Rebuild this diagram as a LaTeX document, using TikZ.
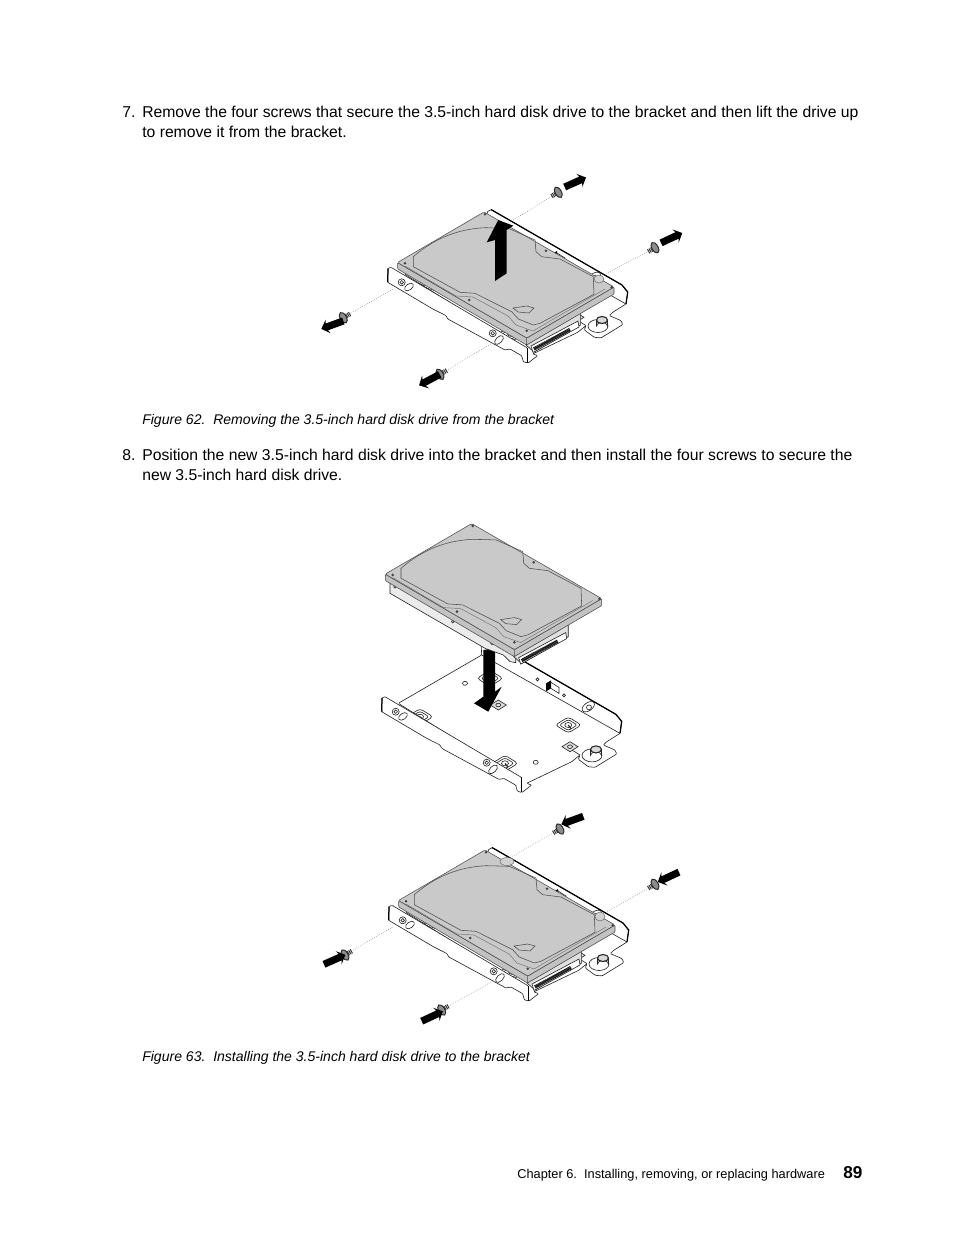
\documentclass[tikz,border=0pt]{standalone}
\usepackage{fontspec}
\setmainfont{Liberation Sans}
\usetikzlibrary{shapes.geometric,shapes.arrows}

% rounded mounting pad on the bracket floor
\newcommand{\caddypad}[2]{
    \filldraw[part, rounded corners=2pt] (#1-13,#2) -- (#1,#2-8) -- (#1+13,#2) -- (#1,#2+8) -- cycle;
    \draw[part, rounded corners=1.5pt] (#1-9,#2) -- (#1,#2-5.5) -- (#1+9,#2) -- (#1,#2+5.5) -- cycle;
    \draw[part] (#1,#2) ellipse[x radius=3.5, y radius=2.5];
    \draw[part, line width=.7pt] (#1,#2) -- (#1+3,#2+4);
}
% small square clip on the bracket floor
\newcommand{\caddyclip}[2]{
    \filldraw[part, fill=gray!25] (#1-8,#2) -- (#1,#2-5) -- (#1+8,#2) -- (#1,#2+5) -- cycle;
    \draw[part] (#1,#2) ellipse[x radius=2.5, y radius=1.8];
}
% screw with threads pointing along the given angle
\newcommand{\screw}[3]{
    \draw[threads] (#2) -- ++(#3:8);
    \node[screwhead, rotate=-#3] (#1) at (#2) {};
}

\begin{document}
\begin{tikzpicture}[
            x=0.6415pt, y=-0.6415pt,
            part/.style={draw=black!85, line width=.4pt, fill=none},
            bodytext/.style={anchor=base west, inner sep=0pt, font=\fontsize{10.08}{12}\selectfont},
            figcaption/.style={anchor=base west, inner sep=0pt, font=\fontsize{9}{10}\selectfont\itshape},
            footertext/.style={anchor=base west, inner sep=0pt, font=\fontsize{8.2}{10}\selectfont},
            pagenumber/.style={anchor=base west, inner sep=0pt, font=\fontsize{11}{12}\selectfont\bfseries},
            guide/.style={draw=black!70, line width=.3pt, densely dotted},
            threads/.style={draw=black!80, line width=3pt, dash pattern=on .6pt off .5pt},
            screwhead/.style={ellipse, draw=black!85, fill=black!45, line width=.6pt, inner sep=0pt, minimum width=4pt, minimum height=7.5pt},
            boltarrow/.style={single arrow, fill=black, inner sep=0pt, minimum height=15pt,
                single arrow head extend=2.4pt, single arrow head indent=1pt},
            % bracket with floor and rear flange
            caddy/.pic={
                \filldraw[part, fill=white, rounded corners=.6pt] (404.3,273.9) -- (487.7,225.6) -- (487,212) -- (491,209.5)
                    -- (622,285) -- (627.7,292) -- (626,304) -- (612.7,312.3) -- (609.3,315.6) -- (621,320.6) -- (622.7,324.6)
                    -- (601,337.9) -- (594.3,337.3) -- (584.3,329.9) -- (586,325.6) -- (577.7,332.3) -- (532.7,353.9)
                    -- (537.7,355.6) -- (527.7,363.3) -- (526.7,350.6) -- cycle;
                \draw[black, line width=.8pt] (491,209.5) -- (622,285) -- (627.7,292) -- (626,304);
                \draw[part] (487.7,225.6) -- (626,304);
                \draw[part] (577,320) -- (586,325.6);
                \caddypad{426}{287.3}
                \caddypad{496}{248.9}
                \caddypad{574.3}{295.6}
                \caddypad{511}{333.9}
                \caddyclip{504.3}{275.6}
                \caddyclip{576}{317.3}
                \draw[part] (471,253.9) ellipse[x radius=2.5, y radius=2];
                \draw[part] (541.7,332.9) ellipse[x radius=2.5, y radius=2];
                % rear flange details
                \draw[part, rotate around={35:(594.3,277.3)}] (594.3,277.3) ellipse[x radius=7, y radius=4];
                \draw[part] (595,278) circle[radius=2.5];
                \fill[black] (552,254) -- (557,251) -- (557,259) -- (552,262) -- cycle;
                \draw[part] (557,253) -- (565,258) -- (565,264) -- (557,259);
                \draw[part] (543.5,250) circle[radius=1.5];
                \draw[part] (570,266) circle[radius=1.5];
                % post on the tab
                \draw[part] (598,326) ellipse[x radius=10, y radius=6.5];
                \filldraw[part, fill=white] (596.5,320) -- (596.5,326) arc[start angle=180, end angle=360, x radius=5.5, y radius=3.5] -- (607.5,320);
                \filldraw[part, fill=black!15, line width=.7pt] (602,320) ellipse[x radius=5.5, y radius=3.5];
            },
            % front flange of the bracket
            caddyflange/.pic={
                \filldraw[part, fill=white, rounded corners=.5pt] (388,268.5) -- (391,267.3) -- (527.5,348) -- (527.5,363) -- (523.3,361.7)
                    -- (521.7,355.7) -- (510,349) -- (505,350) -- (447.7,318.9) -- (446,315.6) -- (432.7,308.9) -- (387.7,282.3) -- cycle;
                \draw[black, line width=.9pt] (527.5,348) -- (527.5,363);
                \draw[black, line width=.8pt] (388,268.5) -- (387.7,282.3);
                \draw[part] (401.7,282.3) circle[radius=3.5];
                \draw[part] (401.7,282.3) circle[radius=1.8];
                \draw[part, rotate around={35:(409,287)}] (409,287) ellipse[x radius=5, y radius=3];
                \draw[part] (492.7,333.3) circle[radius=3.5];
                \draw[part] (492.7,333.3) circle[radius=1.8];
                \draw[part, rotate around={45:(499,340)}] (499,340) ellipse[x radius=5.5, y radius=3];
            },
            % hard disk drive, top cover and connector side
            hdd/.pic={
                \filldraw[part, fill=black!12] (526,345) -- (534,352) -- (580.6,325) -- (580.6,313) -- cycle;
                \filldraw[draw=black!70, line width=.35pt, fill=black!24, rounded corners=.6pt] (397.5,262.5) -- (397.7,269) -- (526.5,345) -- (614,294) -- (614,287) -- (526.7,338) -- cycle;
                \filldraw[draw=black!70, line width=.35pt, fill=black!21, rounded corners=.8pt] (484,212) -- (397.5,262.5) -- (526.7,338) -- (614,287) -- cycle;
                \draw[draw=black!70, line width=.35pt] (526.7,338) -- (526.5,345);
                % raised outline of the cover
                \draw[draw=black!70, line width=.35pt] (413.3,266.7) -- (413.3,256.7) .. controls (435,238) and (458,229) .. (485,227.7)
                    -- (508.3,228.3) -- (535,240) -- (536,251.7) -- (541.7,256.7) -- (560,259) -- (593.3,276.7) -- (594,294.3)
                    -- (540,323.3) -- (533.3,325) -- (518.3,319) -- (511.7,311.7) -- (475,293.3) -- (460,292.3) -- cycle;
                \draw[draw=black!55, line width=.3pt] (405,266) -- (456,296) -- (473,297) -- (508,316) -- (516,325) -- (533,331) -- (605,289);
                \draw[draw=black!70, line width=.35pt] (513,308) -- (526.7,306) -- (534,308) -- (529,313) -- (518,312) -- cycle;
                % screw dots of the cover
                \foreach \dotx/\doty in {405/263.3, 485/214.3, 611.7/287.3, 526.7/330.7, 469.3/300, 546/250.7}
                    \fill[black!75] (\dotx,\doty) circle[radius=1.4];
                % connector
                \filldraw[part, fill=white] (531,346) -- (578,321) -- (579,327) -- (533,352.5) -- cycle;
                \draw[black, line width=2.2pt, dash pattern=on .45pt off .3pt] (534,349) -- (570,329.5);
            },
            % lower part of the drive that shows when it is lifted
            hddbody/.pic={
                \filldraw[part, fill=black!8] (402.3,268) -- (402.3,281.7) -- (497.3,336.7) -- (515.6,343.4) -- (522.3,350) -- (528,351) -- (528,343) -- cycle;
                \foreach \dotx/\doty in {407.3/275.3, 465/310, 504.3/331.7}
                    \draw[part] (\dotx,\doty) circle[radius=1.3];
            }
        ]
        \useasboundingbox (0,0) rectangle (954,1235);
        \fill[white] (0,0) rectangle (954,1235);

        % Step 7
        \node[bodytext] (num7) at (122,117.5) {7.};
        \node[bodytext] (step7a) at (142,117.5) {Remove the four screws that secure the 3.5-inch hard disk drive to the bracket and then lift the drive up};
        \node[bodytext] (step7b) at (142,137.5) {to remove it from the bracket.};

        % Figure 62
        \pic at (0,0) {caddy};
        \pic at (0,0) {hdd};
        \pic at (0,0) {caddyflange};
        \filldraw[draw=black!60, line width=.3pt, fill=black!18] (599,279) ellipse[x radius=5, y radius=4];
        \coordinate (hole62a) at (513.3,220);
        \coordinate (hole62b) at (606.7,273.3);
        \coordinate (hole62c) at (393.3,289);
        \coordinate (hole62d) at (491.7,343.3);
        \screw{screw62a}{558.3,192.3}{150}
        \screw{screw62b}{655,247.7}{150}
        \screw{screw62c}{343.3,317.7}{-30}
        \screw{screw62d}{440,374.3}{-30}
        \draw[guide] (screw62a) -- (hole62a);
        \draw[guide] (screw62b) -- (hole62b);
        \draw[guide] (screw62c) -- (hole62c);
        \draw[guide] (screw62d) -- (hole62d);
        \node[boltarrow, rotate=24] (arrow62a) at (573.7,183) {\rule{0pt}{4.2pt}};
        \node[boltarrow, rotate=25] (arrow62b) at (670,238.7) {\rule{0pt}{4.2pt}};
        \node[boltarrow, rotate=200] (arrow62c) at (334,324.3) {\rule{0pt}{4.2pt}};
        \node[boltarrow, rotate=208] (arrow62d) at (431,379) {\rule{0pt}{4.2pt}};
        % lift arrow
        \fill[black] (498.3,220) -- (513.3,225.7) -- (506.7,230) -- (506.7,273.3) -- (495,281) -- (495,240) -- (486.7,242.3) -- cycle;

        \node[figcaption] (cap62) at (142,424) {Figure 62.\ \ Removing the 3.5-inch hard disk drive from the bracket};

        % Step 8
        \node[bodytext] (num8) at (122,460.5) {8.};
        \node[bodytext] (step8a) at (142,460.5) {Position the new 3.5-inch hard disk drive into the bracket and then install the four screws to secure the};
        \node[bodytext] (step8b) at (142,480.5) {new 3.5-inch hard disk drive.};

        % Figure 63, drive above the bracket
        \pic at (-6,429.4) {caddy};
        \pic at (-6,429.4) {caddyflange};
        \fill[black] (483.3,650) -- (483.3,696.7) -- (474,703.3) -- (488.3,711.7) -- (501.7,686.7) -- (495,691.7) -- (495,648) -- cycle;
        \pic at (-12.3,311.6) {hddbody};
        \pic at (-12.3,311.6) {hdd};

        % Figure 63, drive in the bracket
        \pic at (1,638) {caddy};
        \pic at (1,638) {hdd};
        \pic at (1,638) {caddyflange};
        \filldraw[draw=black!60, line width=.3pt, fill=black!18] (507,861.5) ellipse[x radius=7, y radius=4];
        \filldraw[draw=black!60, line width=.3pt, fill=black!18] (600,916.5) ellipse[x radius=5, y radius=4.5];
        \coordinate (hole63a) at (511.7,856.7);
        \coordinate (hole63b) at (606.7,911.7);
        \coordinate (hole63c) at (393.3,926.7);
        \coordinate (hole63d) at (491.7,981.7);
        \screw{screw63a}{560,829}{150}
        \screw{screw63b}{655,884.3}{150}
        \screw{screw63c}{345,955}{-30}
        \screw{screw63d}{441.7,1010}{-30}
        \draw[guide] (screw63a) -- (hole63a);
        \draw[guide] (screw63b) -- (hole63b);
        \draw[guide] (screw63c) -- (hole63c);
        \draw[guide] (screw63d) -- (hole63d);
        \node[boltarrow, rotate=200] (arrow63a) at (574,819.7) {\rule{0pt}{4.2pt}};
        \node[boltarrow, rotate=205] (arrow63b) at (670,876.3) {\rule{0pt}{4.2pt}};
        \node[boltarrow, rotate=24] (arrow63c) at (333,960.3) {\rule{0pt}{4.2pt}};
        \node[boltarrow, rotate=25] (arrow63d) at (430.7,1017) {\rule{0pt}{4.2pt}};

        \node[figcaption] (cap63) at (142,1061) {Figure 63.\ \ Installing the 3.5-inch hard disk drive to the bracket};

        % Footer
        \node[footertext] (footer) at (517,1178) {Chapter 6.\ \ Installing, removing, or replacing hardware};
        \node[pagenumber] (pageno) at (843,1178) {89};
\end{tikzpicture}
\end{document}
